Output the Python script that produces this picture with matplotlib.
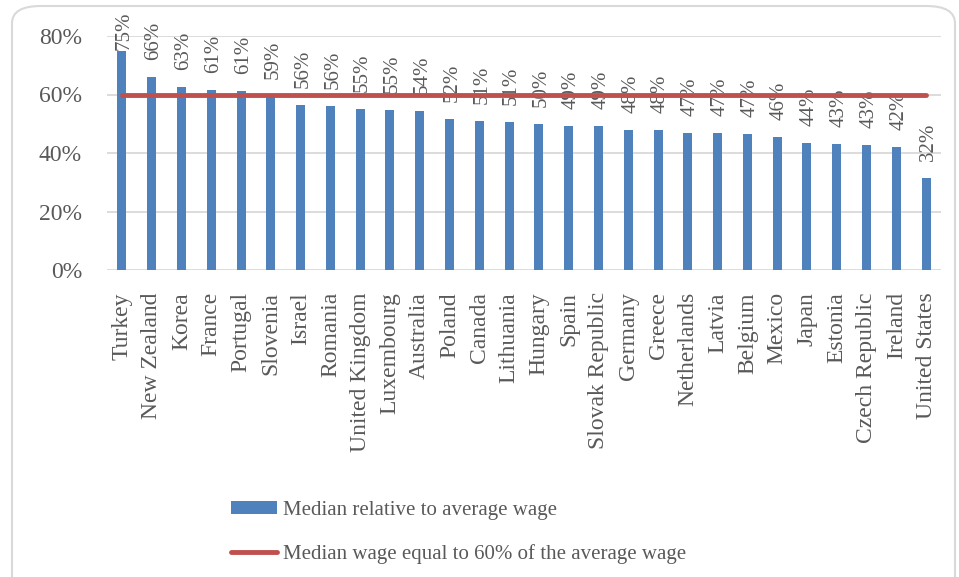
import numpy as np
import matplotlib.pyplot as plt
from matplotlib.patches import FancyBboxPatch, Patch
from matplotlib.lines import Line2D

countries = ['Turkey', 'New Zealand', 'Korea', 'France', 'Portugal', 'Slovenia', 'Israel',
             'Romania', 'United Kingdom', 'Luxembourg', 'Australia', 'Poland', 'Canada',
             'Lithuania', 'Hungary', 'Spain', 'Slovak Republic', 'Germany', 'Greece',
             'Netherlands', 'Latvia', 'Belgium', 'Mexico', 'Japan', 'Estonia',
             'Czech Republic', 'Ireland', 'United States']
median_rel = [0.749, 0.659, 0.627, 0.614, 0.611, 0.595, 0.564, 0.561, 0.552, 0.546,
              0.543, 0.515, 0.511, 0.505, 0.498, 0.491, 0.491, 0.480, 0.480, 0.470,
              0.469, 0.464, 0.456, 0.433, 0.431, 0.428, 0.419, 0.314]
labels = ['75%', '66%', '63%', '61%', '61%', '59%', '56%', '56%', '55%', '55%', '54%',
          '52%', '51%', '51%', '50%', '49%', '49%', '48%', '48%', '47%', '47%', '47%',
          '46%', '44%', '43%', '43%', '42%', '32%']
threshold = [0.60] * len(countries)

SERIF = 'Liberation Serif'
GREY = '#595959'
plt.rcParams['font.family'] = SERIF

fig = plt.figure(figsize=(9.59, 5.77), dpi=100)
# rounded chart frame, behind everything
frame = FancyBboxPatch((12/959, -0.05), 943/959, 1 - 6/577 + 0.05,
                       boxstyle='round,pad=0,rounding_size=0.03',
                       transform=fig.transFigure, facecolor='none',
                       edgecolor='#d9d9d9', linewidth=1.5, zorder=-5)
fig.patches.append(frame)

ax = fig.add_axes([107/959, 1 - 270/577, 834/959, 234/577])
x = np.arange(len(countries))
ax.bar(x, median_rel, width=0.3, color='#4F81BD', zorder=3)
ax.plot(x, threshold, color='#C0504D', linewidth=3.5, solid_capstyle='round', zorder=6)

# labels sit a little above each bar, pushed down where they would leave the chart
for xi, v, lab in zip(x, median_rel, labels):
    ax.text(xi + 0.08, min(v + 0.058, 0.752), lab, rotation=90, ha='center',
            va='bottom', fontsize=15, color=GREY, zorder=5, clip_on=False)

ax.set_xlim(-0.5, len(countries) - 0.5)
ax.set_ylim(0, 0.8)
ax.set_yticks([0, 0.2, 0.4, 0.6, 0.8])
ax.set_yticklabels(['0%', '20%', '40%', '60%', '80%'])
ax.set_xticks(x)
ax.set_xticklabels(countries, rotation=90)
ax.tick_params(axis='both', length=0, labelsize=17, colors=GREY)
ax.tick_params(axis='x', pad=16)
ax.tick_params(axis='y', pad=18)
ax.grid(axis='y', color='#d9d9d9', linewidth=1.3, zorder=0)
for s in ax.spines.values():
    s.set_visible(False)
ax.set_facecolor('none')

handles = [Patch(facecolor='#4F81BD', edgecolor='none'),
           Line2D([0], [0], color='#C0504D', linewidth=3.5, solid_capstyle='round')]
fig.legend(handles, ['Median relative to average wage',
                     'Median wage equal to 60% of the average wage'],
           loc='upper left', bbox_to_anchor=(212/959, 1 - 482/577), frameon=False,
           fontsize=15, labelcolor=GREY, handlelength=2.2, handletextpad=0.3,
           labelspacing=1.15, handleheight=0.6)

fig.savefig('out.png', dpi=100)
